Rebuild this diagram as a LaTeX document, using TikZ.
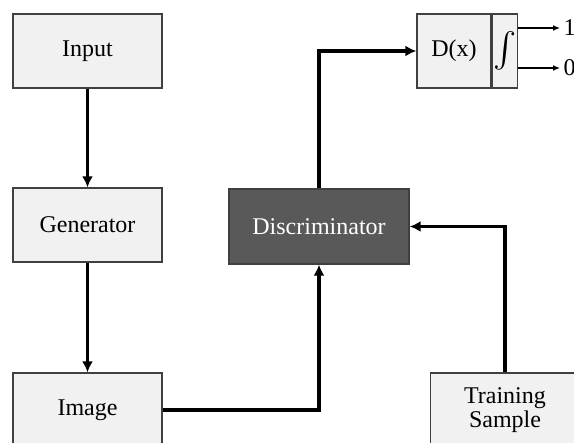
\documentclass[tikz,border=0pt]{standalone}
\usepackage{amsmath}
\usepackage{fontspec}
\setmainfont{Liberation Serif}
\usepackage{tikz}
\usetikzlibrary{arrows.meta,positioning}
\definecolor{boxfill}{HTML}{F1F1F1}
\definecolor{boxdraw}{HTML}{404040}
\definecolor{discfill}{HTML}{595959}
\tikzstyle{block} = [rectangle, font=\fontsize{24}{28}\selectfont, minimum width=149pt, minimum height=74pt, inner sep=0pt, align=center, draw=boxdraw, line width=1.3pt, fill=boxfill]
\tikzstyle{darkblock} = [block, minimum width=180pt, minimum height=75pt, fill=discfill, text=white]
\tikzstyle{arrow} = [line width=3.8pt,-{Latex[length=11pt,width=11pt]}]
\tikzstyle{outarrow} = [line width=1.2pt,-{Latex[length=7pt,width=6pt]}]

\begin{document}
\begin{tikzpicture}[x=1pt,y=-1pt]
\useasboundingbox (0,0) rectangle (574,443);
\node (input) [block] at (87.5,51) {Input};
\node (generator) [block] at (87.5,225) {Generator};
\node (image) [block] at (87.5,410) {Image};
\node (disc) [darkblock] at (319,226.5) {Discriminator};
\node (sample) [block] at (505,410) {Training\\[-4pt]Sample};
\node (dx) [block, minimum width=74pt] at (454,51) {D(x)};
\node (integ) [block, minimum width=25pt, right=0pt of dx] {\scalebox{1.4}{$\int$}};
\node (one) [font=\fontsize{24}{28}\selectfont, anchor=west] at (560,28) {1};
\node (zero) [font=\fontsize{24}{28}\selectfont, anchor=west] at (560,68) {0};

\draw [arrow] (input) -- (generator);
\draw [arrow] (generator) -- (image);
\draw [arrow] (image.east) -| (disc.south);
\draw [arrow] (sample.north) |- (disc.east);
\draw [arrow] (disc.north) |- (dx.west);
\draw [outarrow] (integ.east |- one) -- (one.west);
\draw [outarrow] (integ.east |- zero) -- (zero.west);
\end{tikzpicture}
\end{document}
